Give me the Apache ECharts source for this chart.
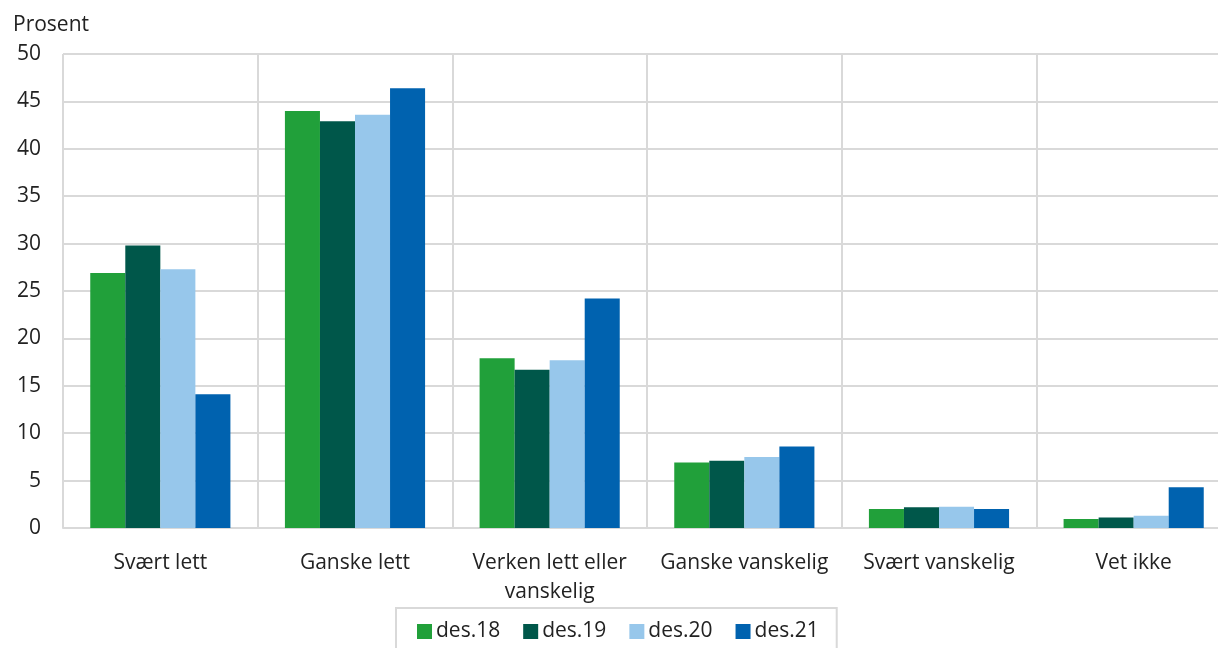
<!DOCTYPE html>
<html>
<head>
    <meta charset="utf-8">
    <title>Prosent</title>
    <script src="https://cdn.jsdelivr.net/npm/echarts@6/dist/echarts.min.js"></script>
    <style>
        html, body { margin: 0; padding: 0; background: #fff; }
        #chart { width: 1218px; height: 648px; }
    </style>
</head>
<body>
<div id="chart"></div>
<script>
    var categories = ['Svært lett', 'Ganske lett', 'Verken lett eller\nvanskelig', 'Ganske vanskelig', 'Svært vanskelig', 'Vet ikke'];
    var seriesNames = ['des.18', 'des.19', 'des.20', 'des.21'];
    var des18 = [26.9, 44.0, 17.9, 6.9, 2.0, 0.95];
    var des19 = [29.8, 42.9, 16.7, 7.1, 2.2, 1.1];
    var des20 = [27.3, 43.6, 17.7, 7.5, 2.25, 1.3];
    var des21 = [14.1, 46.4, 24.2, 8.6, 2.0, 4.3];
    var yTicks = [0, 50, 5];
    var colors = ['#21a03a', '#00574a', '#97c7eb', '#0062af'];

    var font = 'Open Sans';
    var chart = echarts.init(document.getElementById('chart'));
    var values = [des18, des19, des20, des21];
    var series = [];
    for (var i = 0; i < seriesNames.length; i++) {
        series.push({
            name: seriesNames[i],
            type: 'bar',
            data: values[i],
            barGap: '0%',
            barCategoryGap: '28%',
            itemStyle: { color: colors[i] }
        });
    }

    var option = {
        animation: false,
        color: colors,
        textStyle: { fontFamily: font },
        title: {
            text: 'Prosent',
            left: 8,
            top: 10,
            textStyle: { fontFamily: font, fontSize: 21, fontWeight: 'normal', color: '#222' }
        },
        legend: {
            data: seriesNames,
            left: 396,
            top: 608,
            padding: [13, 18, 12, 21],
            borderColor: '#d9d9d9',
            borderWidth: 2,
            itemWidth: 15,
            itemHeight: 15,
            itemGap: 23,
            icon: 'rect',
            textStyle: { fontFamily: font, fontSize: 21, color: '#222', padding: [0, 0, 0, -1] }
        },
        grid: {
            left: 63,
            width: 1168,
            top: 54,
            bottom: 120,
            outerBoundsMode: 'none',
            containLabel: false
        },
        xAxis: {
            type: 'category',
            data: categories,
            axisLine: { show: true, lineStyle: { color: '#d9d9d9', width: 2 } },
            axisTick: { show: false },
            splitLine: { show: true, lineStyle: { color: '#d9d9d9', width: 2 } },
            axisLabel: {
                interval: 0,
                margin: 21,
                fontFamily: font,
                fontSize: 21,
                lineHeight: 29,
                color: '#222'
            }
        },
        yAxis: {
            type: 'value',
            min: yTicks[0],
            max: yTicks[1],
            interval: yTicks[2],
            axisLine: { show: false },
            axisTick: { show: false },
            splitLine: { show: true, lineStyle: { color: '#d9d9d9', width: 2 } },
            axisLabel: {
                margin: 22,
                fontFamily: font,
                fontSize: 21,
                color: '#222'
            }
        },
        series: series
    };
    chart.setOption(option);
</script>
</body>
</html>
